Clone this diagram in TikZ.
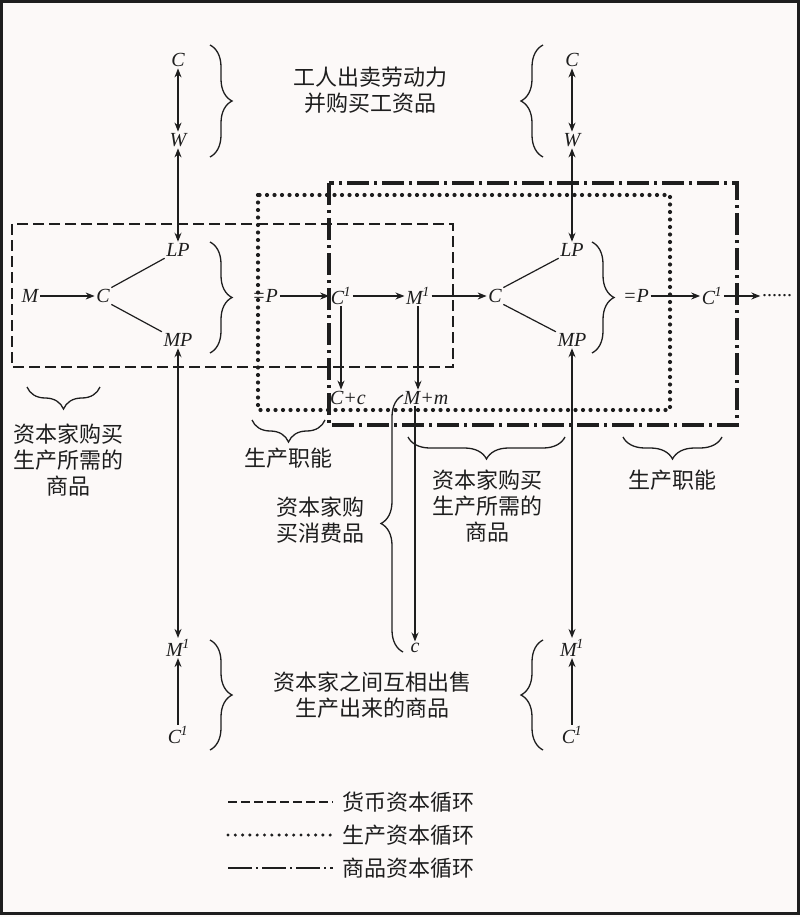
\documentclass[tikz,border=0pt]{standalone}
\usepackage{fontspec}
\newfontfamily\cjk{Noto Sans CJK SC}
\newfontfamily\letters{Liberation Serif}
\usepackage{tikz}
\usepackage{xcolor}
\usetikzlibrary{arrows.meta, positioning, decorations.pathreplacing, calc}
\definecolor{paper}{HTML}{FCF9F8}
\definecolor{ink}{HTML}{1E1E1E}
\newcommand\letterfont{\letters\itshape\fontsize{20}{24}\selectfont}
\newcommand\hanfont{\cjk\fontsize{22}{26}\selectfont}
\newcommand\one{\textsuperscript{\kern-0.5pt 1}}

\begin{document}
\begin{tikzpicture}[x=1pt, y=-1pt,
  every node/.style={font=\letterfont, inner sep=1.5pt, text=ink},
  arr/.style={-{Stealth[length=9pt,width=7pt]}, line width=1.2pt, ink},
  dbl/.style={{Stealth[length=9pt,width=7pt]}-{Stealth[length=9pt,width=7pt]}, line width=1.2pt, ink},
  lnk/.style={line width=1.2pt, ink},
  brc/.style={decorate, decoration={brace, amplitude=22pt}, line width=1.3pt, ink},
  txt/.style={font=\hanfont, align=center},
  money/.style={line width=1.9pt, ink, dash pattern=on 11pt off 5pt},
  prod/.style={line width=4.2pt, ink, line cap=round, dash pattern=on 0pt off 7.5pt},
  comm/.style={line width=3.2pt, ink, dash pattern=on 22pt off 5pt on 3pt off 5pt}
]
\useasboundingbox (0,0) rectangle (800,917);
\fill[paper] (0,0) rectangle (800,917);
\draw[line width=3pt, ink] (1.5,1.5) rectangle (798.5,913.5);

% circuit boxes
\draw[money] (12,224) rectangle (453,367);
\draw[prod] (258,195) rectangle (670,410);
\draw[comm] (329,183) rectangle (737,425);

% left column
\node (c1) at (178,60)  {C};
\node (w1) at (178,140) {W};
\node (lp1) at (178,250) {LP};
\node (mp1) at (178,340) {MP};
\node (m2) at (178,648) {M\one};
\node (cl) at (178,735) {C\one};

% main row
\node (m0) at (30,296)  {M};
\node (c0) at (103,296) {C};
\node (p1) at (265,296) {=P};
\node (cc1) at (341,296) {C\one};
\node (mm1) at (418,296) {M\one};
\node (c2) at (495,296) {C};
\node (p2) at (636,296) {=P};
\node (cc2) at (712,296) {C\one};
\node (more) at (777,296) {\upshape ......};
\node (cpc) at (348,398) {C+c};
\node (mpm) at (426,398) {M+m};
\node (sc) at (415,648) {c};

% right column
\node (c4) at (572,60)  {C};
\node (w2) at (572,140) {W};
\node (lp2) at (572,250) {LP};
\node (mp2) at (572,340) {MP};
\node (m3) at (572,648) {M\one};
\node (c3) at (572,735) {C\one};

\draw[dbl] (c1) -- (w1);
\draw[dbl] (w1) -- (lp1);
\draw[dbl] (mp1) -- (m2);
\draw[arr] (cl) -- (m2);
\draw[dbl] (c4) -- (w2);
\draw[dbl] (w2) -- (lp2);
\draw[dbl] (mp2) -- (m3);
\draw[arr] (c3) -- (m3);

\draw[arr] (m0) -- (c0);
\draw[lnk] (c0.north east) -- (lp1.south west);
\draw[lnk] (c0.south east) -- (mp1.north west);
\draw[arr] (p1) -- (cc1);
\draw[arr] (cc1) -- (mm1);
\draw[arr] (mm1) -- (c2);
\draw[lnk] (c2.north east) -- (lp2.south west);
\draw[lnk] (c2.south east) -- (mp2.north west);
\draw[arr] (p2) -- (cc2);
\draw[arr] (cc2) -- (more);
\draw[arr] (cc1.south) -- (cc1.south |- cpc.north);
\draw[arr] (mm1.south) -- (mm1.south |- mpm.north);
\draw[arr] (sc |- mpm.south) -- (sc);

% braces
\draw[brc] (210,45) -- (210,157);
\draw[brc] (543,157) -- (543,45);
\draw[brc] (210,242) -- (210,353);
\draw[brc] (592,242) -- (592,353);
\draw[brc] (210,640) -- (210,750);
\draw[brc] (543,750) -- (543,640);
\draw[brc] (100,387) -- (27,387);
\draw[brc] (325,420) -- (252,420);
\draw[brc] (565,437) -- (408,437);
\draw[brc] (722,437) -- (623,437);
\draw[brc] (403,652) -- (403,395);

% labels
\node[txt] (t1) at (370,90)  {工人出卖劳动力\\并购买工资品};
\node[txt] (t2) at (68,460)  {资本家购买\\生产所需的\\商品};
\node[txt] (t3) at (288,458) {生产职能};
\node[txt] (t4) at (320,520) {资本家购\\买消费品};
\node[txt] (t5) at (487,506) {资本家购买\\生产所需的\\商品};
\node[txt] (t6) at (672,480) {生产职能};
\node[txt] (t7) at (372,695) {资本家之间互相出售\\生产出来的商品};

% legend
\coordinate (l1a) at (228,802);
\coordinate (l1b) at (333,802);
\coordinate (l2a) at (228,835);
\coordinate (l2b) at (333,835);
\coordinate (l3a) at (228,868);
\coordinate (l3b) at (333,868);
\draw[line width=1.4pt, ink, dash pattern=on 9pt off 4pt] (l1a) -- (l1b);
\draw[line width=3.4pt, ink, line cap=round, dash pattern=on 0pt off 7.3pt] (l2a) -- (l2b);
\draw[line width=2.4pt, ink, dash pattern=on 24pt off 4pt on 2pt off 4pt] (l3a) -- (l3b);
\node[txt, anchor=west] (g1) at (341,802) {货币资本循环};
\node[txt, anchor=west] (g2) at (341,835) {生产资本循环};
\node[txt, anchor=west] (g3) at (341,868) {商品资本循环};
\end{tikzpicture}
\end{document}
